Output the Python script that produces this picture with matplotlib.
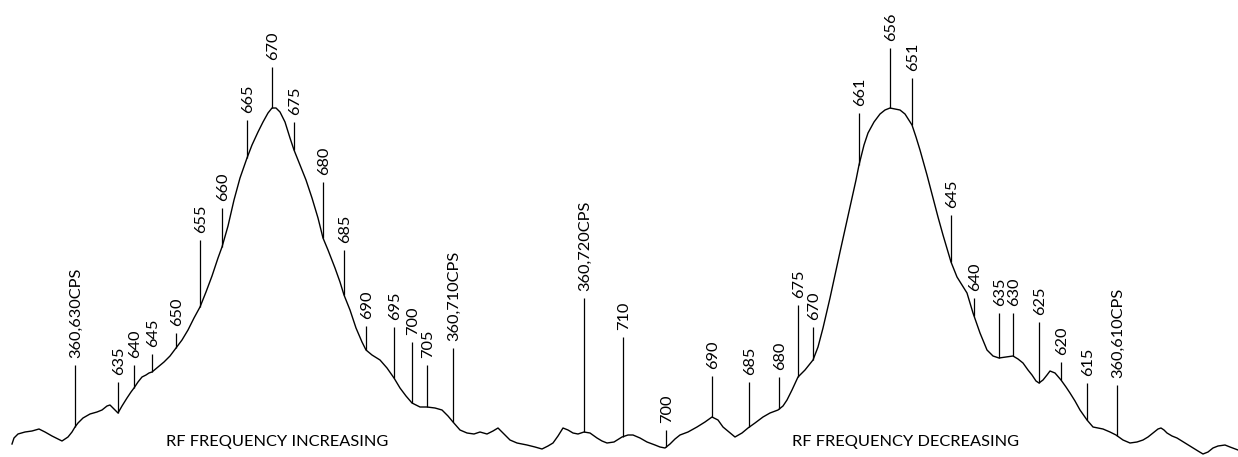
import numpy as np
import matplotlib
matplotlib.use("Agg")
import matplotlib.pyplot as plt

# Recorder trace: sweep position (chart divisions) and detector amplitude
sweep = [12, 14, 18, 25, 32, 39, 45, 52, 62, 68, 72, 75, 78, 83, 90, 97, 102, 107, 110, 113,
         118, 122, 127, 131, 134, 138, 142, 146, 149, 152, 158, 164, 170, 176, 182, 188, 194,
         200, 206, 212, 218, 222, 228, 234, 240, 247, 252, 258, 263, 268, 272, 276, 280, 285,
         290, 294, 300, 306, 312, 318, 323, 328, 335, 340, 344, 350, 356, 362, 366, 372, 380,
         387, 394, 400, 406, 412, 420, 427, 435, 442, 448, 453, 460, 467, 474, 480, 487, 493,
         498, 503, 510, 517, 527, 535, 542, 548, 553, 558, 563, 568, 573, 578, 584, 590, 597,
         602, 607, 614, 622, 628, 633, 640, 647, 655, 660, 665, 670, 675, 680, 688, 697, 705,
         712, 718, 723, 729, 735, 742, 748, 755, 763, 770, 778, 783, 787, 792, 798, 805, 813,
         818, 823, 830, 840, 850, 856, 859, 864, 868, 874, 880, 885, 890, 895, 900, 905, 912,
         916, 920, 927, 933, 938, 943, 948, 951, 957, 962, 967, 973, 980, 987, 993, 999, 1006,
         1013, 1018, 1023, 1028, 1032, 1036, 1039, 1043, 1047, 1050, 1055, 1061, 1066, 1070,
         1075, 1080, 1087, 1093, 1098, 1103, 1110, 1116, 1123, 1130, 1137, 1143, 1148, 1153,
         1158, 1161, 1164, 1167, 1172, 1177, 1185, 1193, 1198, 1203, 1208, 1213, 1218, 1225,
         1230, 1238]
trace_px = [444, 438, 434, 432, 431, 429, 432, 436, 441, 437, 432, 427, 423, 418, 414, 412, 410,
            406, 405, 408, 413, 406, 398, 392, 388, 382, 377, 375, 373, 372, 367, 362, 356, 348,
            340, 330, 318, 307, 292, 276, 258, 247, 226, 200, 178, 158, 145, 132, 122, 113, 108,
            108, 112, 122, 138, 150, 165, 180, 198, 218, 238, 250, 268, 282, 295, 310, 328, 342,
            350, 355, 360, 368, 378, 388, 396, 403, 407, 407, 408, 410, 416, 422, 430, 433, 434,
            432, 434, 431, 428, 433, 440, 443, 445, 447, 449, 446, 443, 436, 428, 430, 433, 434,
            432, 433, 438, 441, 443, 442, 437, 435, 435, 438, 442, 445, 447, 448, 444, 439, 435,
            432, 427, 422, 417, 420, 427, 432, 437, 433, 428, 423, 417, 413, 410, 406, 400, 390,
            377, 370, 360, 347, 328, 298, 252, 207, 180, 165, 145, 133, 122, 114, 110, 108, 109,
            110, 114, 125, 137, 150, 175, 198, 217, 235, 252, 262, 277, 285, 293, 313, 333, 350,
            356, 358, 357, 356, 359, 363, 370, 375, 381, 383, 380, 375, 371, 373, 380, 387, 393,
            401, 410, 420, 427, 428, 429, 432, 435, 440, 443, 442, 440, 437, 433, 429, 428, 430,
            433, 436, 438, 443, 448, 451, 454, 452, 448, 446, 445, 447, 450]

# Frequency marker pips: label, sweep position, pip top
marker_labels = ["360,630CPS", "635", "640", "645", "650", "655", "660", "665", "670", "675",
                 "680", "685", "690", "695", "700", "705", "360,710CPS", "360,720CPS", "710",
                 "700", "690", "685", "680", "675", "670", "661", "656", "651", "645", "640",
                 "635", "630", "625", "620", "615", "360,610CPS"]
marker_pos = [75, 118, 134, 152, 176, 200, 222, 247, 272, 294, 323, 344, 366, 394, 412, 427,
              453, 584, 623, 666, 712, 749, 779, 798, 813, 859, 890, 912, 951, 974, 999, 1013,
              1039, 1061, 1087, 1117]
marker_top_px = [365, 382, 365, 354, 333, 240, 208, 120, 67, 122, 182, 250, 326, 327, 342, 365,
                 348, 298, 337, 430, 376, 382, 377, 305, 327, 113, 48, 78, 215, 298, 313, 313,
                 322, 362, 383, 385]

sweep_notes = ["RF FREQUENCY INCREASING", "RF FREQUENCY DECREASING"]
note_pos = [277, 906]

W, H = 1238, 457
amp = H - np.array(trace_px, dtype=float)
top = H - np.array(marker_top_px, dtype=float)

fig = plt.figure(figsize=(W / 100, H / 100), dpi=100)
ax = fig.add_axes([0, 0, 1, 1])
ax.set_xlim(0, W)
ax.set_ylim(0, H)
ax.axis("off")

ink = "#000000"
font = dict(family="Lato", fontweight="normal", fontsize=11.8, color=ink)

ax.plot(sweep, amp, color=ink, lw=1.0, solid_joinstyle="round")

base = np.interp(marker_pos, sweep, amp)
ax.vlines(marker_pos, base, top, color=ink, lw=0.9)
for lab, x, t in zip(marker_labels, marker_pos, top):
    ax.text(x + 1, t + 7, lab, rotation=90, ha="center", va="bottom", **font)

for txt, x in zip(sweep_notes, note_pos):
    ax.text(x, H - 442, txt, ha="center", va="center", **font)

fig.savefig("out.png", dpi=100, facecolor="white")
